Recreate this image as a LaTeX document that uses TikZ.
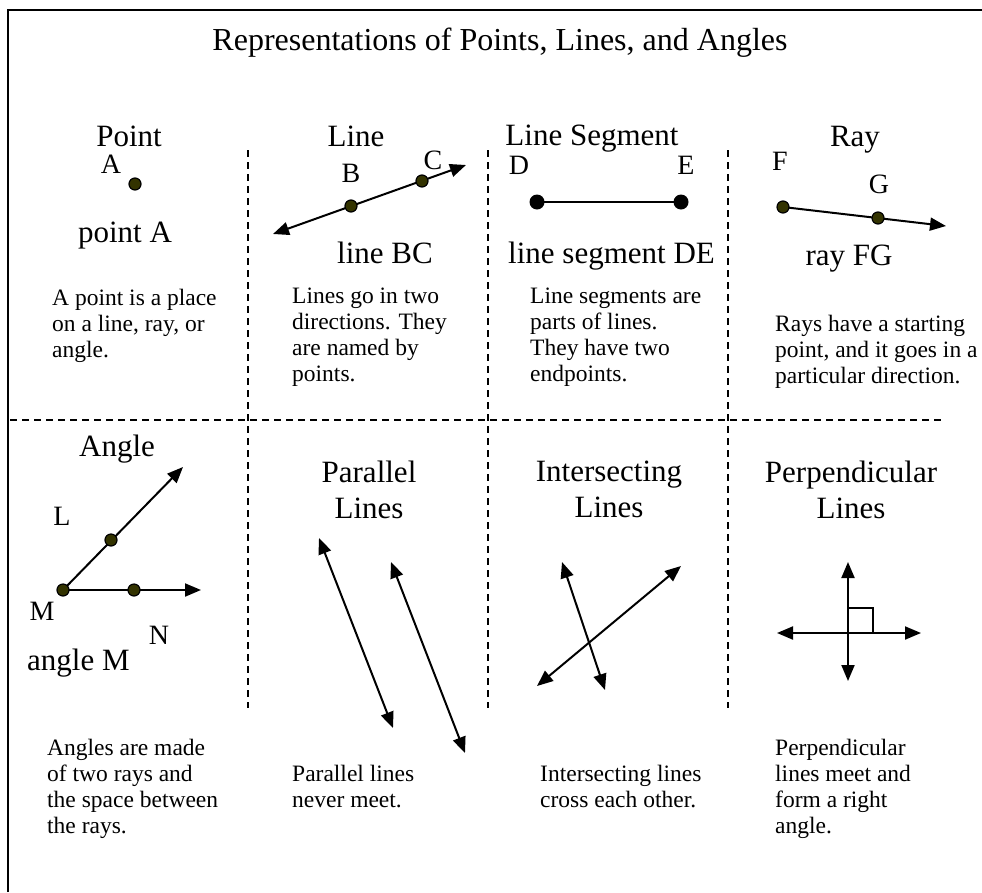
\documentclass[tikz,border=0pt]{standalone}
\usepackage{fontspec}
\setmainfont{Liberation Serif}
\usepackage{tikz}
\usetikzlibrary{arrows.meta}

\definecolor{dotolive}{HTML}{333300}
\newcommand{\titlesize}{\fontsize{32}{36}\selectfont}
\newcommand{\headsize}{\fontsize{31}{36}\selectfont}
\newcommand{\bodysize}{\fontsize{23.5}{26}\selectfont}
\newcommand{\lettersize}{\fontsize{28}{32}\selectfont}

\begin{document}
\begin{tikzpicture}[x=1pt, y=-1pt, >={Triangle[length=16pt,width=13pt]},
    every node/.style={inner sep=0pt},
    heading/.style={font=\headsize, align=center, anchor=base},
    multihead/.style={font=\headsize, align=center, anchor=north},
    bodytext/.style={font=\bodysize, align=left, anchor=north west},
    letter/.style={font=\lettersize, anchor=base},
    gridline/.style={line width=1.8pt, dash pattern=on 7pt off 5pt},
    figline/.style={line width=2pt},
    olivedot/.style={fill=dotolive, draw=black, line width=1.2pt}]
        \useasboundingbox (0,0) rectangle (982,892);

        % Frame
        \draw[line width=2pt] (8,892) -- (8,10) -- (982,10);

        % Title
        \node[font=\titlesize, anchor=base] (title) at (500,50) {Representations of Points, Lines, and Angles};

        % Grid
        \draw[gridline] (10,420) -- (945,420);
        \draw[gridline] (248,150) -- (248,708);
        \draw[gridline] (488,150) -- (488,708);
        \draw[gridline] (728,150) -- (728,708);

        % Headings
        \node[heading] (hpoint) at (129,146) {Point};
        \node[heading] (hline) at (356,146) {Line};
        \node[heading] (hseg) at (592,145) {Line Segment};
        \node[heading] (hray) at (855,146) {Ray};
        \node[heading] (hangle) at (117,456) {Angle};
        \node[multihead] (hpar) at (369,461) {Parallel\\Lines};
        \node[multihead] (hint) at (609,461) {Intersecting\\Lines};
        \node[multihead] (hperp) at (851,461) {Perpendicular\\Lines};

        % Define coordinates
        \coordinate (A) at (135,184);
        \coordinate (BCl) at (273,234);
        \coordinate (B) at (351,206);
        \coordinate (C) at (422,181);
        \coordinate (BCr) at (466,165);
        \coordinate (D) at (537,202);
        \coordinate (E) at (681,202);
        \coordinate (F) at (783,207);
        \coordinate (G) at (878,218);
        \coordinate (FGr) at (946,226);
        \coordinate (M) at (63,590);
        \coordinate (L) at (111,540);
        \coordinate (ML) at (183,467);
        \coordinate (N) at (134,590);
        \coordinate (MN) at (201,590);
        \coordinate (P1a) at (319,538);
        \coordinate (P1b) at (393,728);
        \coordinate (P2a) at (391,562);
        \coordinate (P2b) at (465,753);
        \coordinate (I1a) at (562,562);
        \coordinate (I1b) at (605,690);
        \coordinate (I2a) at (537,686);
        \coordinate (I2b) at (681,566);
        \coordinate (X) at (848,633);
        \coordinate (Xu) at (848,562);
        \coordinate (Xd) at (848,681);
        \coordinate (Xl) at (777,633);
        \coordinate (Xr) at (921,633);

        % Lines and rays
        \draw[figline, <->] (BCl) -- (BCr);
        \draw[figline] (D) -- (E);
        \draw[figline, ->] (F) -- (FGr);
        \draw[figline, ->] (M) -- (ML);
        \draw[figline, ->] (M) -- (MN);
        \draw[figline, <->] (P1a) -- (P1b);
        \draw[figline, <->] (P2a) -- (P2b);
        \draw[figline, <->] (I1a) -- (I1b);
        \draw[figline, <->] (I2a) -- (I2b);
        \draw[figline, <->] (Xu) -- (Xd);
        \draw[figline, <->] (Xl) -- (Xr);
        \draw[figline] (X) rectangle ++(25,-25);

        % Point dots
        \fill[olivedot] (A) circle (6pt);
        \fill[olivedot] (B) circle (6pt);
        \fill[olivedot] (C) circle (6pt);
        \fill[olivedot] (F) circle (6pt);
        \fill[olivedot] (G) circle (6pt);
        \fill[olivedot] (M) circle (6pt);
        \fill[olivedot] (L) circle (6pt);
        \fill[olivedot] (N) circle (6pt);
        \fill (D) circle (7.5pt);
        \fill (E) circle (7.5pt);

        % Letters
        \node[letter] (lA) at (111,173) {A};
        \node[letter] (lB) at (351,182) {B};
        \node[letter] (lC) at (433,169) {C};
        \node[letter] (lD) at (519,174) {D};
        \node[letter] (lE) at (686,174) {E};
        \node[letter] (lF) at (780,170) {F};
        \node[letter] (lG) at (879,193) {G};
        \node[letter] (lL) at (62,525) {L};
        \node[letter] (lM) at (42,620) {M};
        \node[letter] (lN) at (159,644) {N};

        % Names
        \node[heading] (npoint) at (125,242) {point A};
        \node[heading] (nline) at (385,263) {line BC};
        \node[heading, anchor=base west] (nseg) at (508,263) {line segment DE};
        \node[heading] (nray) at (849,265) {ray FG};
        \node[heading, anchor=base west] (nangle) at (27,670) {angle M};

        % Descriptions
        \node[bodytext] (tpoint) at (52,289) {A point is a place\\on a line, ray, or\\angle.};
        \node[bodytext] (tline) at (292,288) {Lines go in two\\directions. They\\are named by\\points.};
        \node[bodytext] (tseg) at (530,288) {Line segments are\\parts of lines.\\They have two\\endpoints.};
        \node[bodytext] (tray) at (775,315) {Rays have a starting\\point, and it goes in a\\particular direction.};
        \node[bodytext] (tangle) at (47,739) {Angles are made\\of two rays and\\the space between\\the rays.};
        \node[bodytext] (tpar) at (292,765) {Parallel lines\\never meet.};
        \node[bodytext] (tint) at (540,765) {Intersecting lines\\cross each other.};
        \node[bodytext] (tperp) at (775,739) {Perpendicular\\lines meet and\\form a right\\angle.};
    \end{tikzpicture}
\end{document}
